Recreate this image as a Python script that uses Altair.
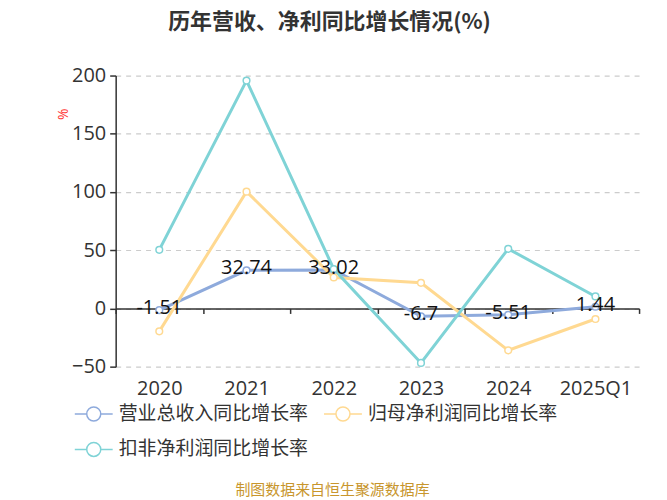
import altair as alt
import pandas as pd

categories = ["2020", "2021", "2022", "2023", "2024", "2025Q1"]
series_names = ["营业总收入同比增长率", "归母净利润同比增长率", "扣非净利润同比增长率"]
revenue_growth = [-1.51, 32.74, 33.02, -6.7, -5.51, 1.44]
parent_profit_growth = [-19.7, 100.3, 26.6, 22.0, -36.0, -9.1]
deducted_profit_growth = [50.3, 195.7, 33.8, -46.8, 51.2, 10.3]
revenue_labels = ["-1.51", "32.74", "33.02", "-6.7", "-5.51", "1.44"]
colors = ["#8eaadc", "#ffd991", "#7fd3d6"]
y_ticks = [-50, 0, 50, 100, 150, 200]
title_text = "历年营收、净利同比增长情况(%)"
source_text = "制图数据来自恒生聚源数据库"

rows = []
for name, vals in zip(series_names, [revenue_growth, parent_profit_growth, deducted_profit_growth]):
    for c, v in zip(categories, vals):
        rows.append({"year": c, "series": name, "value": v})
df = pd.DataFrame(rows)
lab = pd.DataFrame({"year": categories, "value": revenue_growth, "label": revenue_labels})

CJK = "Noto Sans CJK SC"
NUM = "Open Sans"

xscale = alt.Scale(type="band", domain=categories, paddingInner=0, paddingOuter=0)
yscale = alt.Scale(domain=[-50, 200], nice=False)

x_main = alt.X(
    "year:N", scale=xscale, bandPosition=0.5,
    axis=alt.Axis(
        orient="bottom", offset=-58.4, domain=True, domainColor="#333",
        domainWidth=1.5, ticks=True, tickBand="extent", tickSize=5,
        tickColor="#333", tickWidth=1.5, grid=False, labelAngle=0,
        labelFontSize=20, labelFont=NUM, labelColor="#333", labelPadding=75,
        labelBaseline="middle",
        title=source_text, titleColor="#c8962d", titleFontSize=15, titleFont=CJK,
        titleFontWeight="normal", titleX=217, titleY=182, titleAlign="center",
        titleBaseline="middle", titleAnchor="start",
    ),
)
y_main = alt.Y(
    "value:Q", scale=yscale,
    axis=alt.Axis(
        values=y_ticks, domain=True, domainColor="#333", domainWidth=1.5,
        ticks=True, tickSize=6, tickColor="#333", tickWidth=1.5,
        labelFontSize=20, labelFont=NUM, labelColor="#333", labelPadding=4,
        grid=True, gridColor="#cccccc", gridDash=[5, 5], gridWidth=1.2,
        title="%", titleColor="#ff3333", titleFontSize=14, titleFont=NUM,
        titleFontWeight="normal", titleX=-45, titleY=44, titleAnchor="start",
    ),
)

symbol_path = "M-1,0L-0.37,0M0.37,0L1,0M0.37,0A0.37,0.37,0,1,1,-0.37,0A0.37,0.37,0,1,1,0.37,0"

color = alt.Color(
    "series:N",
    scale=alt.Scale(domain=series_names, range=colors),
    legend=alt.Legend(
        orient="none", legendX=-42, legendY=319, columns=2, direction="horizontal",
        title=None, symbolType=symbol_path, symbolSize=1444, symbolStrokeWidth=1.5,
        symbolFillColor="white", labelFontSize=19, labelFont=CJK,
        labelColor="#333", labelOffset=5, columnPadding=12, rowPadding=5,
        labelLimit=300,
    ),
)

lines = alt.Chart(df).mark_line(strokeWidth=3).encode(
    x=x_main, y=y_main, color=color,
)
points = alt.Chart(df).mark_point(
    filled=True, fill="white", size=45, strokeWidth=1.5, opacity=1
).encode(
    x=alt.X("year:N", scale=xscale, bandPosition=0.5),
    y=alt.Y("value:Q", scale=yscale),
    stroke=alt.Stroke("series:N", scale=alt.Scale(domain=series_names, range=colors), legend=None),
)
labels = alt.Chart(lab).mark_text(
    fontSize=20, font=NUM, color="#111", baseline="middle", align="center", dy=-2
).encode(
    x=alt.X("year:N", scale=xscale, bandPosition=0.5),
    y=alt.Y("value:Q", scale=yscale),
    text="label:N",
)

chart = alt.layer(lines, points, labels).properties(
    width=525, height=292,
    title=alt.TitleParams(
        title_text, fontSize=22, font=CJK, fontWeight="bold", color="#333",
        anchor="middle", dx=-48, dy=12, offset=34, baseline="middle",
    ),
    autosize=alt.AutoSizeParams(type="none"),
    padding={"left": 108, "top": 67, "right": 20, "bottom": 134},
).configure_view(stroke=None)

chart.save("out.html", embed_options={"renderer": "svg", "actions": False})
